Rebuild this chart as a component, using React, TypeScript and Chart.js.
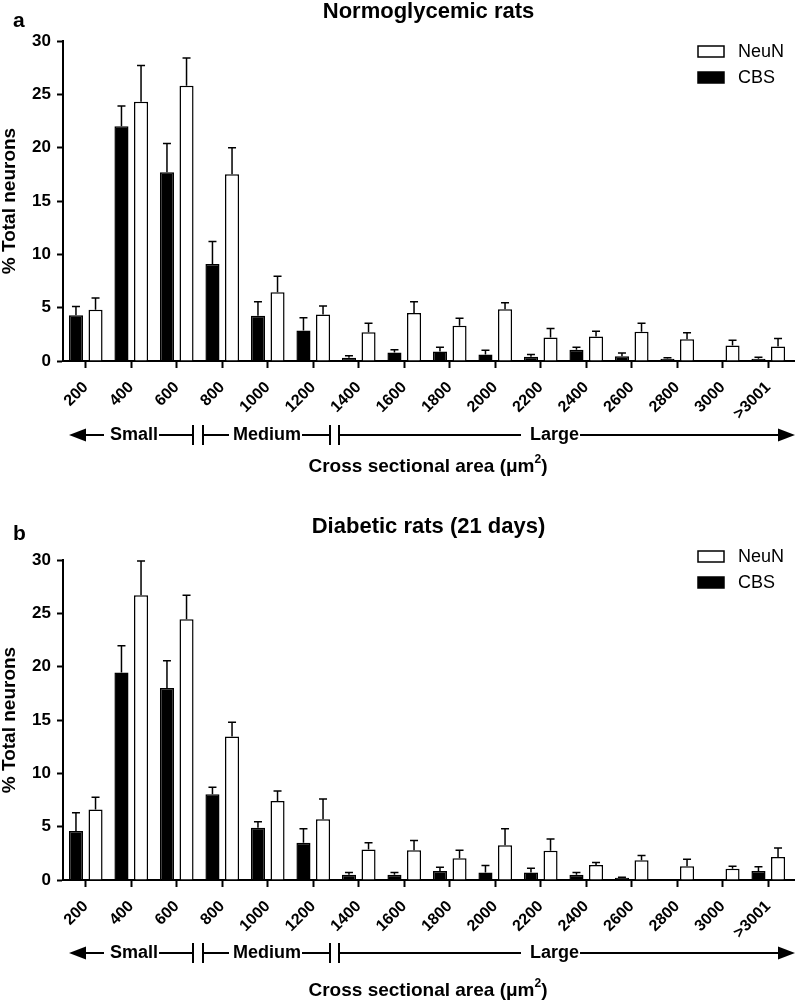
import React, { useEffect, useRef } from 'react';
import { Chart, registerables } from 'chart.js';

Chart.register(...registerables);

const sizeLabels = ['200', '400', '600', '800', '1000', '1200', '1400', '1600', '1800', '2000', '2200', '2400', '2600', '2800', '3000', '>3001'];

// Panel a: Normoglycemic rats
const cbsA = [4.3, 22.0, 17.7, 9.1, 4.25, 2.85, 0.3, 0.8, 0.9, 0.6, 0.4, 1.05, 0.45, 0.2, 0, 0.2];
const cbsSemA = [0.8, 1.9, 2.7, 2.1, 1.3, 1.2, 0.2, 0.25, 0.4, 0.4, 0.2, 0.25, 0.3, 0.1, 0, 0.15];
const neunA = [4.8, 24.3, 25.8, 17.5, 6.45, 4.35, 2.7, 4.5, 3.3, 4.85, 2.2, 2.3, 2.75, 2.05, 1.45, 1.35];
const neunSemA = [1.1, 3.4, 2.6, 2.5, 1.5, 0.8, 0.85, 1.05, 0.7, 0.6, 0.85, 0.5, 0.8, 0.6, 0.5, 0.75];

// Panel b: Diabetic rats (21 days)
const cbsB = [4.6, 19.45, 18.0, 8.05, 4.9, 3.5, 0.5, 0.5, 0.85, 0.7, 0.7, 0.5, 0.2, 0, 0, 0.85];
const cbsSemB = [1.7, 2.5, 2.55, 0.65, 0.55, 1.3, 0.2, 0.2, 0.35, 0.65, 0.4, 0.2, 0.05, 0, 0, 0.4];
const neunB = [6.6, 26.7, 24.45, 13.45, 7.4, 5.7, 2.85, 2.8, 2.05, 3.25, 2.75, 1.4, 1.85, 1.3, 1.05, 2.15];
const neunSemB = [1.15, 3.2, 2.25, 1.35, 0.95, 1.9, 0.65, 0.9, 0.75, 1.55, 1.1, 0.25, 0.45, 0.65, 0.25, 0.85];

const yTicks = [0, 5, 10, 15, 20, 25, 30];

const FONT = "'Liberation Sans', Arial, Helvetica, sans-serif";

type Panel = {
  letter: string;
  title: string;
  top: number; // canvas top on page
  height: number; // canvas height
  axisTop: number; // y of value 30 within canvas
  titleBase: number;
  letterBase: number;
  legendTop: number;
  arrowY: number;
  axisTitleY: number;
  cbs: number[];
  cbsSem: number[];
  neun: number[];
  neunSem: number[];
};

const panels: Panel[] = [
  { letter: 'a', title: 'Normoglycemic rats', top: 0, height: 505, axisTop: 41, titleBase: 18, letterBase: 27, legendTop: 46, arrowY: 435, axisTitleY: 467, cbs: cbsA, cbsSem: cbsSemA, neun: neunA, neunSem: neunSemA },
  { letter: 'b', title: 'Diabetic rats (21 days)', top: 505, height: 498, axisTop: 55, titleBase: 28, letterBase: 35, legendTop: 46, arrowY: 448, axisTitleY: 486, cbs: cbsB, cbsSem: cbsSemB, neun: neunB, neunSem: neunSemB },
];

function makePlugin(p: Panel) {
  return {
    id: 'deco' + p.letter,
    afterDatasetsDraw(chart: any) {
      const ctx = chart.ctx;
      const yScale = chart.scales.y;
      ctx.save();
      ctx.strokeStyle = '#000';
      ctx.lineWidth = 1.5;
      chart.data.datasets.forEach((ds: any, i: number) => {
        const meta = chart.getDatasetMeta(i);
        meta.data.forEach((el: any, j: number) => {
          const v = ds.data[j];
          const s = ds.sem[j];
          if (!v || !s) return;
          const yTop = yScale.getPixelForValue(v + s);
          const yBar = yScale.getPixelForValue(v);
          ctx.beginPath();
          ctx.moveTo(el.x, yBar);
          ctx.lineTo(el.x, yTop);
          ctx.moveTo(el.x - 4, yTop);
          ctx.lineTo(el.x + 4, yTop);
          ctx.stroke();
        });
      });
      ctx.restore();
    },
    afterDraw(chart: any) {
      const ctx = chart.ctx;
      const area = chart.chartArea;
      ctx.save();
      ctx.fillStyle = '#000';
      ctx.strokeStyle = '#000';

      // extend x axis line slightly
      ctx.lineWidth = 2;
      ctx.beginPath();
      ctx.moveTo(area.right - 1, area.bottom);
      ctx.lineTo(795, area.bottom);
      ctx.stroke();

      // title
      ctx.font = `bold 22px ${FONT}`;
      ctx.textAlign = 'center';
      ctx.textBaseline = 'alphabetic';
      ctx.fillText(p.title, 428.5, p.titleBase);

      // panel letter
      ctx.font = `bold 21px ${FONT}`;
      ctx.textAlign = 'left';
      ctx.fillText(p.letter, 13, p.letterBase);

      // y axis title
      ctx.save();
      ctx.translate(9.5, (area.top + area.bottom) / 2);
      ctx.rotate(-Math.PI / 2);
      ctx.font = `bold 19px ${FONT}`;
      ctx.textAlign = 'center';
      ctx.textBaseline = 'middle';
      ctx.fillText('% Total neurons', 0, 0);
      ctx.restore();

      // legend
      const lx = 698;
      const items = [
        { label: 'NeuN', fill: '#fff', y: p.legendTop },
        { label: 'CBS', fill: '#000', y: p.legendTop + 26 },
      ];
      ctx.font = `18px ${FONT}`;
      ctx.textAlign = 'left';
      ctx.textBaseline = 'middle';
      items.forEach((it) => {
        ctx.fillStyle = it.fill;
        ctx.fillRect(lx, it.y, 26, 11);
        ctx.lineWidth = 1.5;
        ctx.strokeStyle = '#000';
        ctx.strokeRect(lx, it.y, 26, 11);
        ctx.fillStyle = '#000';
        ctx.fillText(it.label, 738, it.y + 6);
      });

      // size class arrows
      const y = p.arrowY;
      ctx.lineWidth = 2;
      ctx.font = `bold 18px ${FONT}`;
      ctx.textBaseline = 'middle';
      const line = (x1: number, x2: number) => {
        ctx.beginPath();
        ctx.moveTo(x1, y);
        ctx.lineTo(x2, y);
        ctx.stroke();
      };
      const vbar = (x: number) => {
        ctx.beginPath();
        ctx.moveTo(x, y - 10);
        ctx.lineTo(x, y + 10);
        ctx.stroke();
      };
      ctx.beginPath();
      ctx.moveTo(69, y);
      ctx.lineTo(86, y - 6.5);
      ctx.lineTo(86, y + 6.5);
      ctx.closePath();
      ctx.fill();
      line(85, 104);
      ctx.fillText('Small', 110, y);
      const wS = ctx.measureText('Small').width;
      line(110 + wS + 1, 193);
      vbar(193);
      vbar(203);
      line(203, 229);
      ctx.fillText('Medium', 233, y);
      const wM = ctx.measureText('Medium').width;
      line(233 + wM + 1, 330);
      vbar(330);
      vbar(339);
      line(339, 521);
      ctx.fillText('Large', 530, y);
      const wL = ctx.measureText('Large').width;
      line(530 + wL + 1, 781);
      ctx.beginPath();
      ctx.moveTo(795, y);
      ctx.lineTo(778, y - 6.5);
      ctx.lineTo(778, y + 6.5);
      ctx.closePath();
      ctx.fill();

      // x axis title with superscript
      const main = 'Cross sectional area (\u03bcm';
      ctx.font = `bold 19px ${FONT}`;
      const w1 = ctx.measureText(main).width;
      const w3 = ctx.measureText(')').width;
      ctx.font = `bold 12px ${FONT}`;
      const w2 = ctx.measureText('2').width;
      const total = w1 + w2 + w3;
      const x0 = 428 - total / 2;
      ctx.textAlign = 'left';
      ctx.textBaseline = 'middle';
      ctx.font = `bold 19px ${FONT}`;
      ctx.fillText(main, x0, p.axisTitleY);
      ctx.font = `bold 12px ${FONT}`;
      ctx.fillText('2', x0 + w1, p.axisTitleY - 7);
      ctx.font = `bold 19px ${FONT}`;
      ctx.fillText(')', x0 + w1 + w2, p.axisTitleY);

      ctx.restore();
    },
  };
}

function PanelChart({ p }: { p: Panel }) {
  const ref = useRef<HTMLCanvasElement | null>(null);
  useEffect(() => {
    if (!ref.current) return;
    const plotH = 320;
    const xH = 100;
    const chart = new Chart(ref.current, {
      type: 'bar',
      data: {
        labels: sizeLabels,
        datasets: [
          { label: 'CBS', data: p.cbs, sem: p.cbsSem, backgroundColor: '#000', borderColor: '#000', borderWidth: 1.5, categoryPercentage: 0.86, barPercentage: 0.72 } as any,
          { label: 'NeuN', data: p.neun, sem: p.neunSem, backgroundColor: '#fff', borderColor: '#000', borderWidth: 1.5, categoryPercentage: 0.86, barPercentage: 0.72 } as any,
        ],
      },
      options: {
        animation: false,
        responsive: false,
        maintainAspectRatio: false,
        devicePixelRatio: 1,
        layout: { padding: { left: 0, right: 6, top: p.axisTop, bottom: p.height - p.axisTop - plotH - xH } },
        plugins: { legend: { display: false }, tooltip: { enabled: false }, title: { display: false } },
        scales: {
          x: {
            grid: { offset: false, drawOnChartArea: false, drawTicks: true, tickLength: 7, tickWidth: 2, tickColor: '#000' },
            border: { color: '#000', width: 2 },
            ticks: { color: '#000', font: { family: FONT, weight: 'bold', size: 16 }, minRotation: 45, maxRotation: 45, autoSkip: false, padding: 10 },
            afterFit: (s: any) => { s.height = xH; },
          },
          y: {
            min: 0,
            max: 30,
            afterBuildTicks: (s: any) => { s.ticks = yTicks.map((v) => ({ value: v })); },
            grid: { drawOnChartArea: false, drawTicks: true, tickLength: 6, tickWidth: 2, tickColor: '#000' },
            border: { color: '#000', width: 2 },
            ticks: { color: '#000', font: { family: FONT, weight: 'bold', size: 17 }, padding: 6 },
            afterFit: (s: any) => { s.width = 63; },
          },
        },
      } as any,
      plugins: [makePlugin(p) as any],
    });
    return () => chart.destroy();
  }, [p]);
  return (
    <canvas
      ref={ref}
      width={797}
      height={p.height}
      style={{ position: 'absolute', left: 0, top: p.top, width: 797, height: p.height, display: 'block' }}
    />
  );
}

export default function App() {
  useEffect(() => {
    document.body.style.margin = '0';
  }, []);
  return (
    <div style={{ position: 'relative', width: 797, height: 1003, overflow: 'hidden', background: '#fff' }}>
      {panels.map((p) => (
        <PanelChart key={p.letter} p={p} />
      ))}
    </div>
  );
}
